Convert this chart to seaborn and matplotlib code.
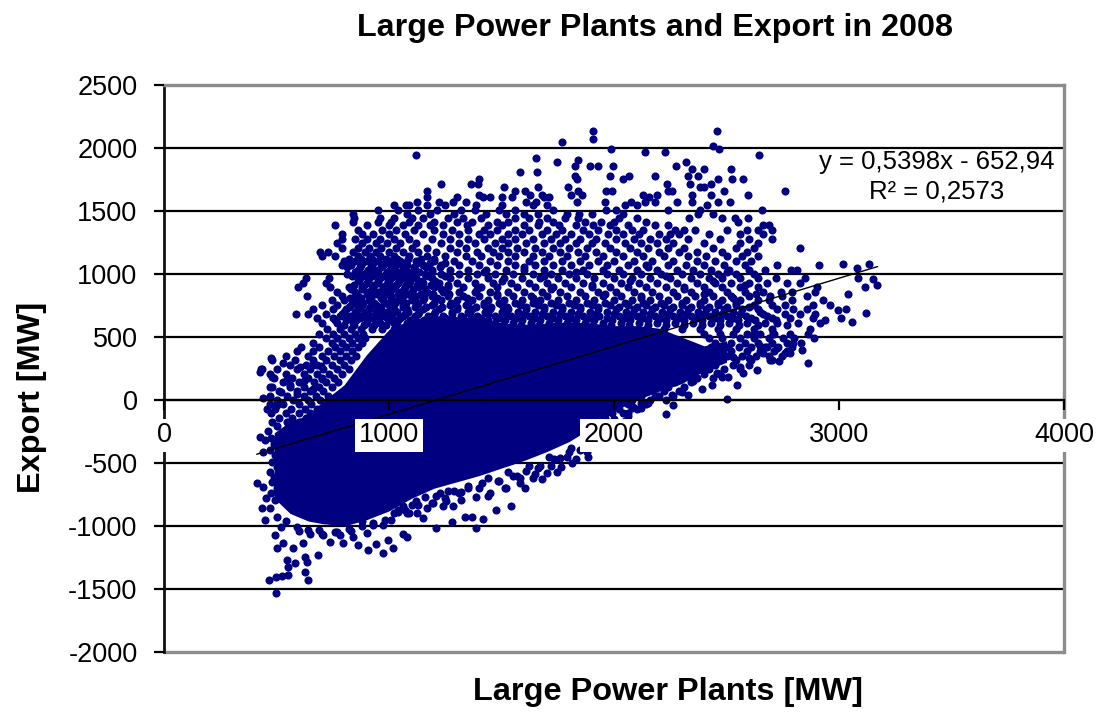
# -*- coding: utf-8 -*-
import matplotlib
matplotlib.use('Agg')
import matplotlib.pyplot as plt
import numpy as np
import pandas as pd
import seaborn as sns

# solid part of the cloud, where single points can't be told apart
core_x = [490, 560, 640, 700, 800, 900, 1000, 1100, 1200, 1300, 1400, 1500, 1600, 1700, 1800, 1900, 2000, 2100, 2200, 2300, 2400, 2500]
core_low = [-780, -900, -960, -980, -1000, -950, -880, -780, -700, -650, -600, -540, -480, -410, -330, -220, -90, 0, 70, 130, 230, 300]
core_high = [-260, -170, -120, -20, 120, 360, 560, 640, 670, 660, 650, 610, 600, 610, 620, 610, 590, 590, 570, 500, 430, 470]

# sparse points, read row by row: export level and the plants values on that row
row_y = [2137, 2070, 2050, 2016, 1990, 1965, 1944, 1918, 1905, 1889, 1855, 1830, 1809, 1775, 1756, 1715, 1690, 1660, 1630, 1610,
         1575, 1550, 1510, 1480, 1445, 1415, 1385, 1350, 1315, 1280, 1245, 1210, 1175, 1140, 1105, 1070, 1035, 1000, 965, 930,
         895, 860, 825, 790, 755, 720, 685, 650, 615, 580, 545]
row_x = [[1906, 2459], [1906], [1767], [2439], [1985, 2467], [2138, 2227], [1118, 2644], [1653], [1838], [1746, 2320],
         [1826, 1893, 1927, 1997, 2276], [2345, 2402, 2521], [1583, 1659], [1826, 1982, 2068, 2182, 2330, 2375],
         [1398, 1835, 2040, 2464, 2526, 2575], [1229, 1364, 1397, 2234, 2338, 2430], [1509, 1663, 1795, 2380, 2400],
         [1170, 1560, 1604, 1838, 1964, 1993, 2242, 2258, 2490, 2760], [1400, 1625, 1678, 1807, 1859, 2130, 2190, 2345, 2432, 2594],
         [1170, 1300, 1419, 1449, 1500, 1545, 1690, 1710, 2155],
         [1125, 1222, 1285, 1340, 1610, 1655, 1835, 1960, 2074, 2138, 2182, 2282, 2345, 2464, 2516],
         [1020, 1075, 1090, 1170, 1250, 1385, 1500, 1640, 1700, 2049, 2100, 2412],
         [950, 1040, 1130, 1215, 1320, 1380, 1490, 1560, 1730, 1965, 2010, 2242, 2382, 2659],
         [840, 1080, 1180, 1290, 1430, 1520, 1600, 1660, 1790, 1845, 1900, 2040, 2375, 2438],
         [845, 960, 1020, 1100, 1150, 1260, 1330, 1410, 1560, 1620, 1700, 1780, 1840, 2020, 2100, 2335, 2478, 2538, 2597],
         [841, 950, 1010, 1090, 1200, 1300, 1370, 1480, 1530, 1665, 1730, 1870, 1940, 2000, 2140, 2553],
         [760, 900, 1000, 1060, 1130, 1180, 1240, 1345, 1440, 1500, 1600, 1660, 1755, 1830, 1905, 1980, 2060, 2180, 2240, 2660, 2690],
         [860, 970, 1030, 1110, 1200, 1280, 1350, 1420, 1480, 1560, 1620, 1700, 1770, 1860, 1930, 2010, 2080, 2130, 2270, 2310, 2360, 2500, 2590, 2640, 2700],
         [790, 880, 930, 1000, 1070, 1150, 1240, 1310, 1400, 1450, 1530, 1590, 1680, 1740, 1810, 1890, 1975, 2040, 2110, 2200, 2250, 2290, 2420, 2560, 2660],
         [790, 850, 900, 960, 1020, 1090, 1190, 1270, 1350, 1420, 1500, 1560, 1640, 1720, 1780, 1850, 1920, 2010, 2090, 2160, 2230, 2330, 2470, 2600, 2700],
         [767, 880, 940, 990, 1050, 1120, 1230, 1310, 1380, 1470, 1530, 1610, 1690, 1760, 1830, 1900, 1960, 2050, 2120, 2190, 2260, 2400, 2560, 2640],
         [790, 860, 910, 965, 1030, 1100, 1170, 1270, 1340, 1440, 1500, 1570, 1650, 1730, 1800, 1880, 1980, 2070, 2150, 2240, 2310, 2440, 2540, 2620, 2827],
         [693, 727, 840, 895, 940, 1000, 1060, 1130, 1210, 1300, 1390, 1460, 1530, 1600, 1680, 1760, 1840, 1920, 2010, 2100, 2200, 2290, 2370, 2480, 2590],
         [701, 760, 860, 915, 960, 1020, 1090, 1170, 1250, 1340, 1410, 1490, 1560, 1640, 1710, 1790, 1870, 1950, 2040, 2130, 2220, 2330, 2410, 2500, 2570, 2640],
         [800, 850, 900, 950, 1000, 1050, 1120, 1200, 1290, 1370, 1450, 1530, 1620, 1690, 1770, 1850, 1930, 2000, 2090, 2170, 2260, 2370, 2450, 2540, 2610],
         [790, 830, 875, 925, 975, 1030, 1080, 1150, 1230, 1310, 1400, 1480, 1560, 1650, 1730, 1810, 1890, 1970, 2060, 2140, 2240, 2320, 2400, 2490, 2580, 2723, 2912],
         [860, 905, 950, 1005, 1060, 1115, 1190, 1270, 1350, 1430, 1520, 1600, 1690, 1770, 1860, 1950, 2020, 2100, 2190, 2280, 2350, 2430, 2510, 2600, 2670, 2785, 2812],
         [815, 850, 890, 935, 985, 1040, 1090, 1160, 1230, 1310, 1390, 1470, 1550, 1640, 1720, 1800, 1880, 1970, 2040, 2120, 2210, 2300, 2380, 2460, 2540, 2620],
         [631, 735, 870, 910, 960, 1010, 1060, 1120, 1190, 1270, 1350, 1440, 1510, 1590, 1670, 1750, 1830, 1910, 2000, 2080, 2160, 2250, 2340, 2420, 2480, 2560, 2640, 2718, 2849],
         [616, 718, 900, 950, 1000, 1040, 1090, 1150, 1220, 1300, 1380, 1460, 1540, 1620, 1700, 1780, 1860, 1950, 2030, 2110, 2190, 2280, 2370, 2450, 2520, 2600, 2680, 2767, 2827],
         [597, 738, 820, 880, 930, 975, 1020, 1070, 1130, 1200, 1260, 1330, 1410, 1480, 1570, 1650, 1730, 1810, 1900, 1980, 2060, 2140, 2230, 2310, 2400, 2480, 2560, 2640, 2900],
         [770, 850, 905, 950, 1000, 1050, 1100, 1170, 1240, 1310, 1380, 1450, 1530, 1600, 1680, 1760, 1850, 1930, 2010, 2090, 2170, 2260, 2340, 2420, 2500, 2580, 2660, 2740, 2790],
         [634, 790, 860, 920, 965, 1010, 1060, 1120, 1190, 1260, 1330, 1400, 1480, 1550, 1630, 1700, 1790, 1870, 1950, 2030, 2120, 2200, 2280, 2360, 2440, 2520, 2600, 2693, 2745, 2856],
         [745, 800, 855, 910, 975, 1040, 1100, 1150, 1230, 1300, 1370, 1440, 1510, 1590, 1670, 1750, 1830, 1910, 2000, 2080, 2160, 2240, 2320, 2400, 2480, 2560, 2640, 2690, 2790, 2930],
         [700, 770, 830, 880, 940, 1000, 1060, 1120, 1190, 1270, 1340, 1420, 1500, 1580, 1660, 1740, 1820, 1900, 1980, 2060, 2140, 2220, 2300, 2380, 2460, 2540, 2620, 2700, 2760, 2886, 2960],
         [660, 750, 810, 860, 910, 965, 1020, 1080, 1150, 1220, 1300, 1370, 1450, 1530, 1610, 1690, 1770, 1850, 1930, 2010, 2090, 2170, 2250, 2330, 2410, 2490, 2570, 2640, 2723, 2797, 2856, 3031],
         [587, 641, 720, 790, 850, 900, 950, 1010, 1070, 1130, 1200, 1280, 1360, 1440, 1520, 1600, 1680, 1760, 1840, 1920, 2000, 2080, 2160, 2240, 2320, 2400, 2480, 2560, 2660, 2760, 2827, 2893],
         [680, 750, 820, 870, 930, 990, 1050, 1110, 1180, 1250, 1330, 1410, 1490, 1570, 1650, 1730, 1810, 1890, 1970, 2050, 2130, 2210, 2290, 2370, 2450, 2530, 2610, 2700, 2780, 2886, 3007],
         [700, 770, 840, 900, 960, 1020, 1080, 1150, 1230, 1310, 1390, 1470, 1550, 1630, 1710, 1790, 1870, 1950, 2030, 2110, 2190, 2270, 2350, 2430, 2510, 2590, 2670, 2723, 2819, 2915]]

# second pass over the crowded part of the cloud
dense_y = [1122, 1088, 1052, 1018, 982, 948, 912, 878, 842, 808, 772, 738, 702, 668, 632, 598, 562]
dense_x = [[820, 875, 925, 985, 1035, 1085, 1140, 1200],
           [830, 880, 930, 980, 1025, 1070, 1125, 1180, 1250],
           [815, 870, 920, 965, 1010, 1060, 1110, 1165, 1225, 1600, 2150],
           [850, 900, 945, 990, 1035, 1085, 1135, 1190, 1420, 1830, 2500],
           [835, 880, 925, 975, 1020, 1065, 1115, 1175, 1250, 1690, 2230],
           [860, 905, 950, 995, 1045, 1095, 1145, 1205, 1500, 2070, 2440],
           [845, 890, 935, 985, 1030, 1075, 1125, 1185, 1260, 1900, 2580],
           [830, 880, 925, 975, 1015, 1065, 1105, 1160, 1230, 1390, 1720, 2310],
           [855, 900, 945, 990, 1040, 1085, 1140, 1195, 1265, 1480, 1960, 2400, 2630],
           [825, 875, 920, 965, 1010, 1055, 1100, 1155, 1215, 1345, 1640, 2120, 2530],
           [840, 885, 935, 980, 1025, 1075, 1130, 1200, 1275, 1350, 1420, 1490, 1560, 1640, 1720, 1800, 1880, 1960, 2050, 2130, 2210, 2300, 2380, 2460, 2540],
           [820, 865, 915, 960, 1010, 1060, 1115, 1165, 1235, 1300, 1385, 1455, 1525, 1610, 1690, 1770, 1850, 1930, 2020, 2100, 2180, 2260, 2340, 2420, 2500, 2600],
           [800, 850, 895, 940, 990, 1035, 1085, 1135, 1205, 1280, 1350, 1425, 1500, 1575, 1650, 1730, 1810, 1895, 1970, 2055, 2130, 2215, 2295, 2375, 2450, 2530, 2650],
           [780, 825, 875, 920, 970, 1015, 1060, 1115, 1175, 1240, 1320, 1390, 1470, 1540, 1620, 1700, 1780, 1860, 1935, 2020, 2100, 2180, 2260, 2340, 2420, 2500, 2585, 2680],
           [760, 810, 855, 900, 950, 1000, 1040, 1095, 1155, 1225, 1290, 1365, 1440, 1515, 1590, 1670, 1750, 1830, 1910, 1990, 2070, 2150, 2230, 2310, 2390, 2470, 2550, 2625, 2720],
           [800, 845, 890, 935, 985, 1035, 1085, 1145, 1215, 1285, 1355, 1430, 1505, 1585, 1665, 1745, 1825, 1905, 1985, 2065, 2150, 2230, 2310, 2390, 2470, 2555, 2640, 2770],
           [725, 780, 830, 875, 925, 970, 1020, 1065, 1130, 1200, 1270, 1345, 1420, 1500, 1580, 1660, 1740, 1820, 1900, 1980, 2060, 2140, 2220, 2300, 2380, 2460, 2540, 2620, 2700, 2870]]

# left flank above the core and right flank under the trend line
flank_y = [525, 490, 455, 420, 385, 350, 315, 280, 245, 210, 175, 140, 105, 70, 35, 0, -35, -70, -105, -140, -175, -210]
flank_x = [[690, 750, 800, 850, 885, 2400, 2470, 2530, 2590, 2650, 2710, 2780, 2860],
           [720, 770, 820, 860, 895, 2420, 2480, 2560, 2620, 2690, 2750, 2800, 2890],
           [660, 745, 790, 835, 880, 2450, 2520, 2580, 2640, 2700, 2770, 2830],
           [610, 690, 760, 810, 860, 2430, 2505, 2555, 2610, 2670, 2730, 2790],
           [590, 660, 730, 780, 835, 2400, 2520, 2590, 2650, 2710, 2770],
           [540, 640, 700, 755, 810, 855, 2350, 2420, 2500, 2570, 2630, 2690, 2745],
           [480, 580, 660, 720, 780, 830, 2330, 2410, 2470, 2540, 2610, 2700],
           [560, 630, 680, 745, 800, 2300, 2380, 2450, 2530, 2600],
           [500, 590, 650, 705, 770, 820, 2280, 2350, 2420, 2490, 2560],
           [470, 540, 620, 680, 735, 790, 2250, 2330, 2400, 2470],
           [490, 570, 640, 700, 755, 2220, 2290, 2370, 2440],
           [530, 600, 665, 720, 775, 2190, 2270, 2340],
           [480, 560, 620, 690, 745, 2170, 2240, 2310],
           [510, 590, 650, 705, 2150, 2220, 2290],
           [470, 545, 620, 675, 730, 2120, 2190, 2260],
           [500, 575, 640, 695, 2080, 2160, 2230],
           [470, 530, 600, 655, 2060, 2140],
           [495, 565, 625, 680, 2020, 2100],
           [475, 540, 600, 650, 1990, 2060],
           [510, 570, 630, 685, 1960],
           [480, 545, 600, 650, 1930],
           [500, 570, 620, 680, 1900]]

# lower edge of the cloud, just under the core
edge_x = [470, 500, 540, 590, 640, 700, 770, 830, 880, 930, 980, 1020, 1060, 1090, 1130, 1160, 1190, 1225, 1255, 1290, 1320, 1350, 1385, 1415, 1450, 1485, 1515, 1550, 1580, 1610, 1640, 1670, 1700, 1735, 1765, 1800, 1830, 1865, 1900, 1930, 1960, 2000, 2040, 2080, 2120, 2180,
          1010, 1070, 1120, 1170, 1210, 1260, 1310, 1350, 1400, 1440, 1490, 1530, 1570, 1620, 1660, 1710, 1760, 1810, 1850, 1920, 1960, 2010, 2060,
          475, 490, 470, 495, 480, 500, 470, 490, 480, 500, 475, 495]
edge_y = [-860, -930, -960, -1010, -1030, -1060, -1050, -1040, -1000, -990, -950, -900, -840, -900, -830, -770, -820, -740, -800, -720, -790, -700, -770, -660, -740, -640, -700, -600, -660, -560, -620, -520, -580, -470, -530, -410, -470, -350, -300, -260, -200, -150, -100, -60, -20, 30,
          -950, -870, -800, -860, -760, -720, -740, -680, -700, -620, -640, -570, -600, -520, -540, -450, -460, -380, -400, -280, -240, -180, -130,
          -300, -350, -400, -440, -490, -530, -570, -610, -650, -700, -740, -790]

# outliers and fringe of the cloud, read one by one
fringe_x = [3133, 3018, 3081, 3086, 3152, 3167, 3117, 3118, 3041, 3056, 2997, 2938, 2864, 2733, 2893, 2834, 2797, 2760, 2708, 2678, 2664, 2723, 2782, 2693,
            2634, 2575, 2545, 2508, 2456, 2434, 2501, 2330, 2256, 2261, 2086, 2231, 2600, 2650, 2560, 2620, 2480, 2530, 2390, 2350, 2300, 2200, 2150, 2120,
            496, 467, 498, 523, 550, 641, 627, 683, 975, 905, 864, 942, 1016, 1081, 1063, 1209, 1385, 1419, 1278, 1152, 1338, 1367,
            1542, 1474, 1238, 1286, 1197, 1123, 1078, 1041, 1604, 1682, 1745, 1814, 1885, 1878,
            412, 442, 449, 434, 452, 427, 442, 464, 450, 441, 456, 427, 434, 479, 470, 545, 604, 656, 696, 474, 527, 430, 520, 500, 560, 590, 620, 660, 700,
            493, 530, 501, 575, 619, 627, 545, 582, 634, 553, 738, 797, 708, 782, 841, 997, 901, 975, 520, 600, 650, 690, 760, 820, 880, 930, 1040, 1100, 1250, 1320, 1440, 1520, 1580, 1650, 1720, 1790, 1860, 1950, 2050]
fringe_y = [1076, 1076, 1050, 965, 957, 912, 894, 687, 841, 616, 714, 634, 291, 312, 860, 396, 449, 370, 529, 423, 370, 410, 370, 317,
            238, 211, 119, 185, 211, 119, 5, 39, 39, -40, -53, -112, 330, 430, 260, 520, 180, 340, 90, 150, 60, 30, -20, -60,
            -1535, -1429, -1408, -1398, -1390, -1429, -1363, -1231, -1218, -1191, -1151, -1146, -1173, -1085, -1064, -1014, -1019, -948, -966, -940, -926, -926,
            -842, -874, -840, -840, -820, -900, -900, -874, -696, -630, -570, -503, -450, -410,
            -657, -688, -953, -860, -781, -292, -410, -244, -320, 13, -75, 224, 250, 185, 100, 158, 264, 277, 270, 330, 296, 245, 60, -40, 120, 50, 150, 90, 170,
            -1072, -1138, -1178, -1178, -1138, -1244, -1270, -1292, -1289, -1323, -1125, -1138, -1072, -1072, -1085, -1112, -1058, -993, -1010, -1040, -1060, -1030, -1050, -1020, -960, -980, -890, -830, -780, -730, -760, -700, -620, -590, -520, -450, -380, -290, -170]

# trend line as printed on the chart
trend_slope = 0.5398
trend_intercept = -652.94
trend_x = np.array([412, 3172])

x_ticks = [0, 1000, 2000, 3000, 4000]
y_ticks = [-2000, -1500, -1000, -500, 0, 500, 1000, 1500, 2000, 2500]
grid_levels = [-1500, -1000, -500, 0, 500, 1000, 1500, 2000]

plants = list(fringe_x) + list(edge_x)
export = list(fringe_y) + list(edge_y)
for levels, columns in [(row_y, row_x), (dense_y, dense_x), (flank_y, flank_x)]:
    for y, xs in zip(levels, columns):
        plants += xs
        export += [y] * len(xs)
points = pd.DataFrame({'plants': plants, 'export': export})

sns.set_style('white')
plt.rcParams['font.family'] = ['Liberation Sans', 'DejaVu Sans']
plt.rcParams['axes.unicode_minus'] = False

navy = '#000080'
frame = '#8c8c8c'

fig = plt.figure(figsize=(11.02, 7.13), dpi=100)
ax = fig.add_axes([164 / 1102, 61 / 713, 900 / 1102, 567 / 713])

ax.hlines(grid_levels, 0, 4000, color='black', lw=1.6, zorder=1)
ax.fill_between(core_x, core_low, core_high, color=navy, lw=0, zorder=2)
sns.scatterplot(data=points, x='plants', y='export', color=navy, s=34, linewidth=0, ax=ax, zorder=2)
ax.plot(trend_x, trend_slope * trend_x + trend_intercept, color='black', lw=1, zorder=2.2)

ax.set_xlim(0, 4000)
ax.set_ylim(-2000, 2500)
ax.set_xticks(x_ticks)
ax.set_yticks(y_ticks)
ax.set_axisbelow(False)

# x axis crosses at zero, outer frame is grey
ax.spines['bottom'].set_position(('data', 0))
ax.spines['bottom'].set_color('black')
ax.spines['bottom'].set_linewidth(1.6)
ax.spines['left'].set_color('#111111')
ax.spines['left'].set_linewidth(2)
for side in ['top', 'right']:
    ax.spines[side].set_color(frame)
    ax.spines[side].set_linewidth(2.4)
ax.axhline(-2000, color=frame, lw=2.4, clip_on=False, zorder=1.5)

ax.tick_params(axis='x', bottom=True, length=7, width=1.6, color='black', labelcolor='black', pad=9, labelsize=19.5)
ax.tick_params(axis='y', left=True, length=7, width=1.6, color='black', labelcolor='black', pad=12, labelsize=19.5)
for label in ax.get_xticklabels():
    label.set_bbox(dict(facecolor='white', edgecolor='none', pad=2.5))

ax.set_xlabel('')
ax.set_ylabel('')
fig.text(668 / 1102, 1 - 692 / 713, 'Large Power Plants [MW]', color='black', fontsize=23.4, fontweight='bold', ha='center', va='center')
fig.text(32 / 1102, 1 - 397 / 713, 'Export [MW]', color='black', fontsize=23.4, fontweight='bold', rotation=90, ha='center', va='center')
fig.text(655 / 1102, 1 - 28 / 713, 'Large Power Plants and Export in 2008', color='black', fontsize=23.2, fontweight='bold', ha='center', va='center')

fig.text(937 / 1102, 1 - 162 / 713, 'y = 0,5398x - 652,94', color='black', fontsize=18.5, ha='center', va='center', zorder=5)
fig.text(937 / 1102, 1 - 192 / 713, 'R² = 0,2573', color='black', fontsize=18.5, ha='center', va='center', zorder=5)

fig.savefig('out.png', dpi=100)
